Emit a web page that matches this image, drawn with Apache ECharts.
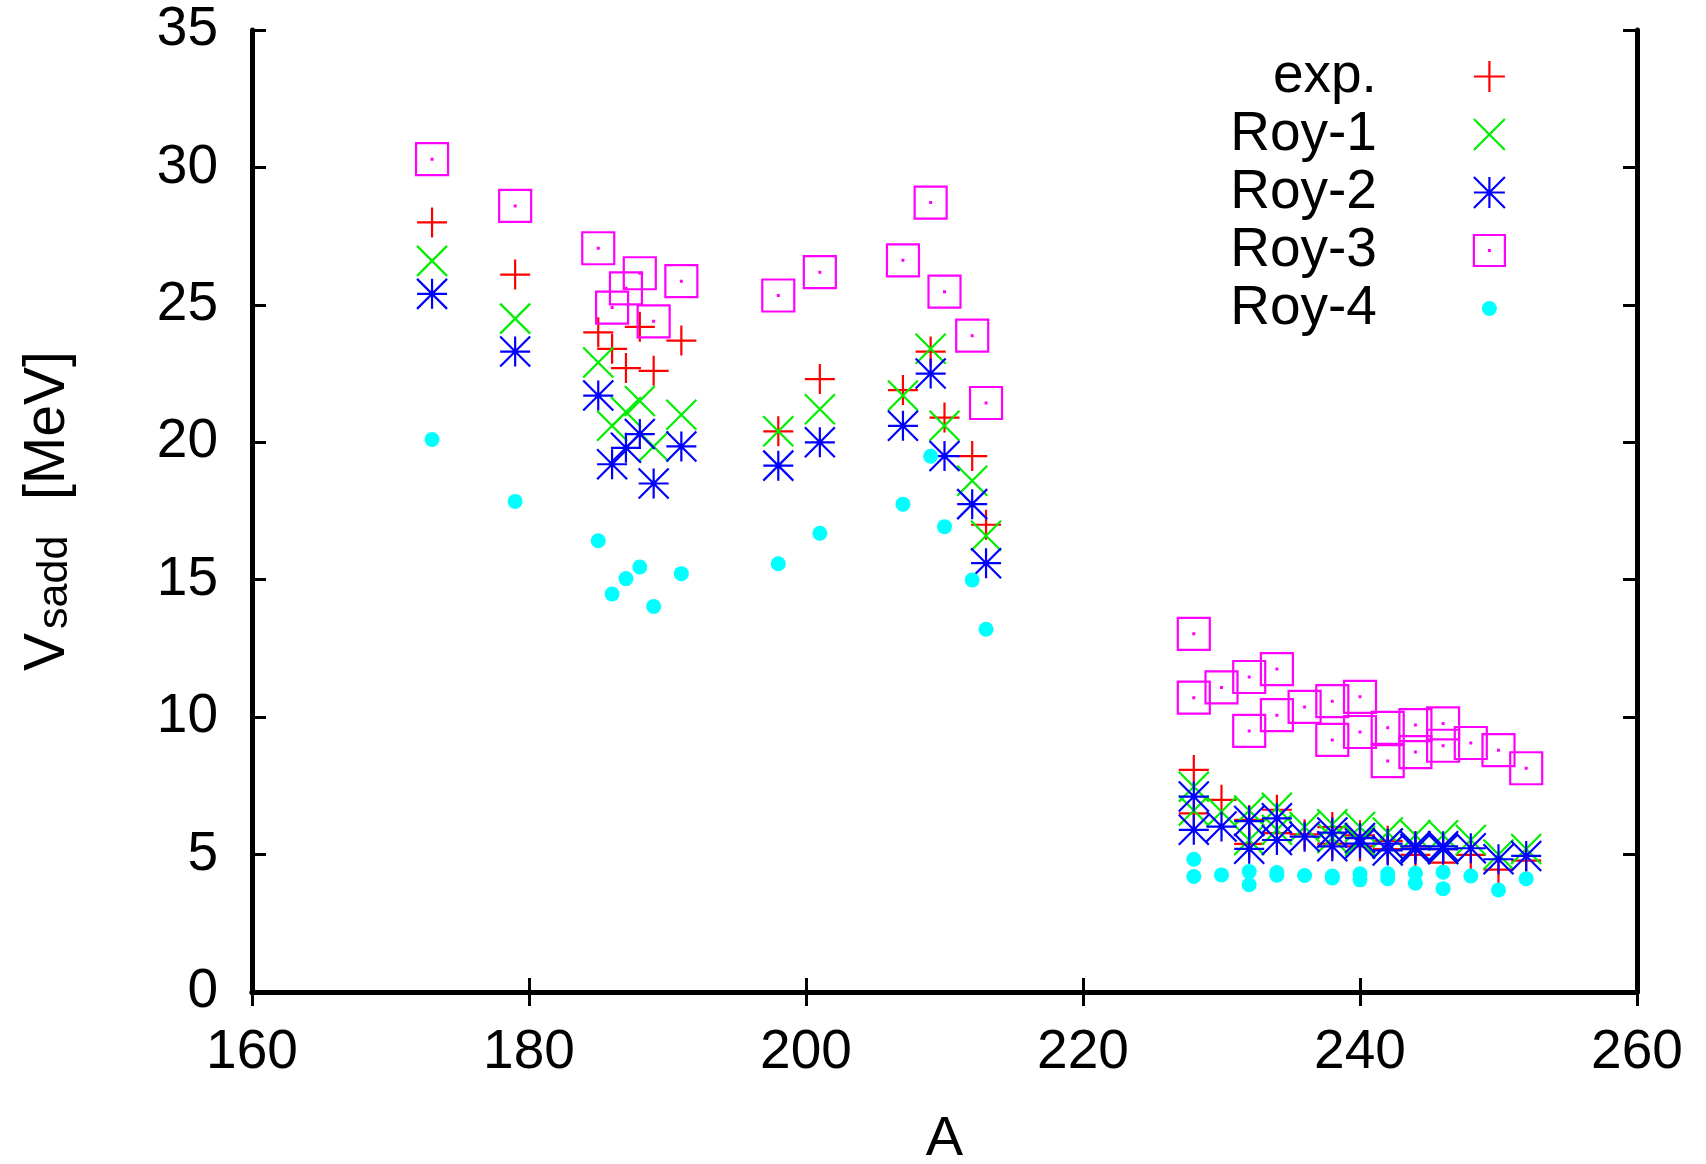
<!DOCTYPE html>
<html>
<head>
<meta charset="utf-8">
<script src="https://cdn.jsdelivr.net/npm/echarts@6/dist/echarts.min.js"></script>
<style>
html,body{margin:0;padding:0;background:#fff;}
#chart{width:1706px;height:1164px;}
</style>
</head>
<body>
<div id="chart"></div>
<script>
// Mass numbers A (one entry per nucleus)
const massA = [173, 179, 185, 186, 187, 188, 189, 191, 198, 201, 207, 209, 210, 212, 213,
  228, 228, 230, 232, 232, 234, 234, 236, 238, 238, 240, 240, 242, 242, 244, 244, 246, 246, 248, 250, 252];
const expV = [28.0, 26.1, 24.0, 23.4, 22.7, 24.2, 22.6, 23.7, 20.4, 22.3, 21.9, 23.3, 20.9, 19.5, 17.0,
  8.08, 6.50, 6.99, 6.26, 5.39, 6.63, 5.78, 5.74, 6.0, 5.4, 5.7, 5.3, 5.5, 5.2, 5.3, 4.99, 5.2, 4.71, 4.99, 4.45, 4.78];
const roy1V = [26.6, 24.5, 22.9, 20.6, 21.1, 21.5, 19.85, 21.0, 20.4, 21.2, 21.7, 23.4, 20.6, 18.6, 16.6,
  7.47, 6.6, 6.56, 6.6, 5.53, 6.7, 5.9, 6.0, 6.1, 5.6, 6.0, 5.5, 5.8, 5.4, 5.7, 5.3, 5.7, 5.2, 5.53, 5.0, 5.2];
const roy2V = [25.4, 23.3, 21.7, 19.2, 19.8, 20.3, 18.5, 19.85, 19.15, 20.0, 20.6, 22.5, 19.5, 17.75, 15.6,
  7.11, 5.90, 6.02, 6.22, 5.21, 6.32, 5.53, 5.65, 5.8, 5.3, 5.6, 5.4, 5.4, 5.15, 5.3, 5.2, 5.3, 5.2, 5.23, 4.83, 4.95];
const roy3V = [30.3, 28.6, 27.06, 24.9, 25.6, 26.15, 24.4, 25.86, 25.34, 26.19, 26.62, 28.72, 25.48, 23.88, 21.43,
  13.03, 10.71, 11.08, 11.46, 9.50, 11.75, 10.07, 10.37, 10.58, 9.17, 10.74, 9.46, 9.61, 8.40, 9.71, 8.73, 9.77, 8.96, 9.06, 8.80, 8.14];
const roy4V = [20.1, 17.85, 16.42, 14.48, 15.04, 15.46, 14.03, 15.22, 15.58, 16.69, 17.75, 19.49, 16.93, 14.99, 13.2,
  4.83, 4.20, 4.26, 4.38, 3.90, 4.35, 4.25, 4.24, 4.22, 4.15, 4.30, 4.08, 4.30, 4.12, 4.32, 3.96, 4.36, 3.76, 4.22, 3.71, 4.12];

const seriesNames = ['exp.', 'Roy-1', 'Roy-2', 'Roy-3', 'Roy-4'];
const xTicks = [160, 180, 200, 220, 240, 260];
const yTicks = [0, 5, 10, 15, 20, 25, 30, 35];

const FONT = '"Liberation Sans", Arial, Helvetica, sans-serif';
const pairs = v => massA.map((a, i) => [a, v[i]]);

const SYM_PLUS = 'path://M0,15 L30,15 M15,0 L15,30';
const SYM_X = 'path://M0,0 L30,30 M30,0 L0,30';
const SYM_STAR = 'path://M0,15 L30,15 M15,0 L15,30 M0,0 L30,30 M30,0 L0,30';
const SYM_BOX = 'path://M0,0 L32,0 L32,32 L0,32 Z M15.6,15.6 L16.4,15.6 L16.4,16.4 L15.6,16.4 Z';
const LEG_DOT = 'path://M0,0 M31,31 M15.5,8 A7.5,7.5,0,1,1,15.49,8 Z';

function lineSeries(name, data, sym, size, color) {
  return {
    name: name, type: 'scatter', data: pairs(data), symbol: sym, symbolSize: size,
    itemStyle: { color: 'rgba(0,0,0,0)', borderColor: color, borderWidth: 2.2, opacity: 1 },
    emphasis: { disabled: true }, animation: false
  };
}

const chart = echarts.init(document.getElementById('chart'), null, { renderer: 'canvas' });
const axisCommon = {
  axisLine: { show: true, lineStyle: { color: '#000', width: 5 } },
  axisTick: { show: true, inside: true, length: 14, lineStyle: { color: '#000', width: 3 } },
  splitLine: { show: false }
};
chart.setOption({
  backgroundColor: '#fff',
  animation: false,
  grid: { left: 252, top: 30, right: 69, bottom: 172, containLabel: false, outerBoundsMode: 'none' },
  xAxis: [
    Object.assign({
      type: 'value', min: xTicks[0], max: xTicks[xTicks.length - 1], interval: 20,
      name: 'A', nameLocation: 'middle', nameGap: 120,
      nameTextStyle: { fontFamily: FONT, fontSize: 56, color: '#000' },
      axisLabel: { margin: 33, fontFamily: FONT, fontSize: 55, color: '#000' }
    }, axisCommon),
    Object.assign({
      type: 'value', position: 'top', min: 160, max: 260, interval: 20,
      axisLabel: { show: false }
    }, axisCommon)
  ],
  yAxis: [
    Object.assign({
      type: 'value', min: yTicks[0], max: yTicks[yTicks.length - 1], interval: 5,
      name: '{a|V}{b|sadd}{a|  [MeV]}', nameLocation: 'middle', nameGap: 175, nameRotate: 90,
      nameTextStyle: {
        fontFamily: FONT, fontSize: 57, color: '#000',
        rich: {
          a: { fontFamily: FONT, fontSize: 57, lineHeight: 57, verticalAlign: 'middle', color: '#000' },
          b: { fontFamily: FONT, fontSize: 43, lineHeight: 43, verticalAlign: 'bottom', color: '#000', padding: [0, 4, 0, 4] }
        }
      },
      axisLabel: { margin: 34, fontFamily: FONT, fontSize: 55, color: '#000' }
    }, axisCommon),
    Object.assign({
      type: 'value', position: 'right', min: 0, max: 35, interval: 5,
      axisLabel: { show: false }
    }, axisCommon)
  ],
  legend: {
    orient: 'vertical', right: 200, top: 49, padding: 0,
    align: 'right', itemWidth: 31, itemHeight: 31, itemGap: 3,
    selectedMode: false,
    textStyle: { fontFamily: FONT, fontSize: 55, color: '#000', lineHeight: 31, padding: [0, 92, 0, 0] },
    itemStyle: { borderWidth: 2.2 },
    data: [
      { name: 'exp.' }, { name: 'Roy-1' }, { name: 'Roy-2' }, { name: 'Roy-3' },
      { name: 'Roy-4', icon: LEG_DOT }
    ]
  },
  series: [
    lineSeries(seriesNames[0], expV, SYM_PLUS, 30, '#ff0000'),
    lineSeries(seriesNames[1], roy1V, SYM_X, 30, '#00ee00'),
    lineSeries(seriesNames[2], roy2V, SYM_STAR, 30, '#0000ff'),
    lineSeries(seriesNames[3], roy3V, SYM_BOX, 32, '#ff00ff'),
    {
      name: seriesNames[4], type: 'scatter', data: pairs(roy4V), symbol: 'circle', symbolSize: 15,
      itemStyle: { color: '#00ffff', borderWidth: 0, opacity: 1 }, emphasis: { disabled: true }
    }
  ]
});
</script>
</body>
</html>
